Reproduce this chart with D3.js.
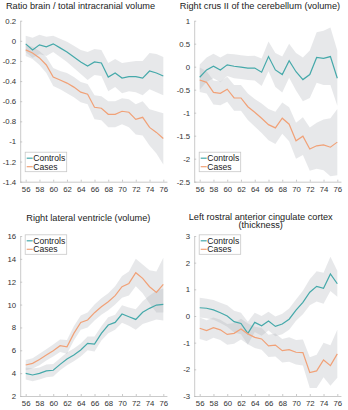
<!DOCTYPE html>
<html><head><meta charset="utf-8">
<script src="https://cdn.jsdelivr.net/npm/d3@7"></script>
<style>body{margin:0;background:#fff}svg{display:block}</style>
</head><body>
<script>
const years = [56,57,58,59,60,61,62,63,64,65,66,67,68,69,70,71,72,73,74,75,76];
const xTicks = [56,58,60,62,64,66,68,70,72,74,76];
const seriesNames = ["Controls","Cases"];

// Panel 1: Ratio brain / total intracranial volume
const p1Controls = [-0.03,-0.09,-0.04,-0.06,-0.03,-0.07,-0.11,-0.16,-0.21,-0.25,-0.21,-0.22,-0.36,-0.32,-0.37,-0.355,-0.355,-0.37,-0.30,-0.32,-0.35];
const p1ControlsUp = [0.05,0.03,0.06,0.04,0.05,0.02,-0.01,-0.05,-0.09,-0.11,-0.08,-0.09,-0.22,-0.18,-0.22,-0.21,-0.2,-0.2,-0.12,-0.13,-0.16];
const p1ControlsLo = [-0.11,-0.17,-0.13,-0.15,-0.11,-0.16,-0.21,-0.27,-0.33,-0.39,-0.34,-0.35,-0.5,-0.46,-0.52,-0.5,-0.51,-0.54,-0.48,-0.51,-0.54];
const p1Cases = [-0.09,-0.12,-0.17,-0.24,-0.36,-0.39,-0.42,-0.46,-0.51,-0.53,-0.66,-0.67,-0.73,-0.73,-0.70,-0.71,-0.78,-0.76,-0.86,-0.91,-0.97];
const p1CasesUp = [-0.04,-0.06,-0.1,-0.16,-0.27,-0.3,-0.32,-0.36,-0.41,-0.43,-0.54,-0.55,-0.6,-0.6,-0.57,-0.58,-0.63,-0.6,-0.68,-0.7,-0.72];
const p1CasesLo = [-0.15,-0.18,-0.24,-0.32,-0.45,-0.48,-0.52,-0.56,-0.61,-0.63,-0.78,-0.79,-0.86,-0.86,-0.83,-0.86,-0.93,-0.94,-1.04,-1.12,-1.23];
const p1YTicks = [0.2,0,-0.2,-0.4,-0.6,-0.8,-1,-1.2,-1.4];

// Panel 2: Right crus II of the cerebellum (volume)
const p2Controls = [-0.23,-0.07,0.01,-0.07,0.04,0.01,-0.01,-0.03,-0.03,-0.12,0.22,-0.07,-0.17,0.13,-0.11,-0.28,-0.17,0.2,0.18,0.22,-0.25];
const p2ControlsUp = [0.05,0.2,0.28,0.2,0.28,0.27,0.25,0.23,0.24,0.18,0.55,0.3,0.22,0.5,0.3,0.2,0.35,0.75,0.78,0.85,0.35];
const p2ControlsLo = [-0.5,-0.33,-0.25,-0.34,-0.2,-0.25,-0.27,-0.29,-0.3,-0.42,-0.1,-0.44,-0.56,-0.24,-0.52,-0.75,-0.68,-0.35,-0.4,-0.4,-0.85];
const p2Cases = [-0.29,-0.34,-0.56,-0.58,-0.49,-0.68,-0.68,-0.87,-0.99,-1.12,-1.26,-1.33,-1.12,-1.25,-1.61,-1.51,-1.79,-1.72,-1.70,-1.75,-1.64];
const p2CasesUp = [-0.02,-0.1,-0.3,-0.32,-0.22,-0.4,-0.4,-0.58,-0.7,-0.8,-0.92,-0.98,-0.78,-0.88,-1.22,-1.1,-1.32,-1.22,-1.15,-1.12,-0.92];
const p2CasesLo = [-0.55,-0.58,-0.82,-0.84,-0.76,-0.96,-0.96,-1.16,-1.3,-1.44,-1.6,-1.68,-1.46,-1.62,-2.0,-1.92,-2.26,-2.22,-2.25,-2.38,-2.36];
const p2YTicks = [1,0.5,0,-0.5,-1,-1.5,-2,-2.5];

// Panel 3: Right lateral ventricle (volume)
const p3Controls = [3.98,3.84,3.98,4.2,4.25,4.77,5.24,5.59,6.02,6.6,6.55,7.48,8.21,8.44,9.17,8.94,8.7,9.32,9.67,9.96,10.02];
const p3ControlsUp = [4.5,4.4,4.5,4.75,4.8,5.3,5.8,6.15,6.6,7.2,7.2,8.1,8.9,9.1,9.95,9.75,9.6,10.3,10.8,11.2,11.4];
const p3ControlsLo = [3.45,3.3,3.45,3.65,3.7,4.25,4.7,5.05,5.45,6.0,5.9,6.85,7.5,7.8,8.4,8.15,7.8,8.3,8.5,8.7,8.6];
const p3Cases = [4.71,4.86,5.2,5.59,5.96,6.4,6.31,7.48,8.44,8.65,9.29,9.81,10.25,10.78,11.56,11.85,12.79,12.29,11.56,11.07,11.77];
const p3CasesUp = [5.15,5.3,5.7,6.1,6.5,6.95,6.9,8.1,9.05,9.3,10.0,10.55,11.0,11.6,12.5,12.9,14.0,13.5,13.0,12.9,14.1];
const p3CasesLo = [4.25,4.4,4.7,5.1,5.45,5.85,5.7,6.85,7.8,8.0,8.6,9.1,9.5,10.0,10.6,10.8,11.6,11.0,10.1,9.3,9.3];
const p3YTicks = [2,4,6,8,10,12,14,16];

// Panel 4: Left rostral anterior cingulate cortex (thickness)
const p4Controls = [0.31,0.29,0.23,0.12,0.0,-0.21,-0.28,-0.65,-0.24,-0.37,-0.19,-0.39,-0.3,-0.12,0.22,0.51,0.89,1.11,1.04,1.58,1.21];
const p4ControlsUp = [0.68,0.65,0.6,0.5,0.4,0.2,0.12,-0.22,0.12,0.0,0.16,-0.02,0.08,0.28,0.62,0.95,1.38,1.68,1.62,2.22,1.7];
const p4ControlsLo = [-0.06,-0.08,-0.14,-0.26,-0.4,-0.62,-0.68,-1.08,-0.6,-0.74,-0.54,-0.76,-0.68,-0.52,-0.18,0.07,0.4,0.54,0.46,0.94,0.72];
const p4Cases = [-0.46,-0.55,-0.44,-0.52,-0.69,-0.65,-0.49,-0.67,-0.8,-0.86,-1.12,-1.09,-1.3,-1.26,-1.36,-1.37,-2.12,-2.06,-1.65,-1.86,-1.42];
const p4CasesUp = [-0.06,-0.16,-0.06,-0.14,-0.3,-0.26,-0.1,-0.28,-0.4,-0.45,-0.7,-0.66,-0.86,-0.8,-0.9,-0.88,-1.55,-1.45,-1.0,-1.1,-0.52];
const p4CasesLo = [-0.86,-0.94,-0.82,-0.9,-1.08,-1.04,-0.88,-1.06,-1.2,-1.27,-1.54,-1.52,-1.74,-1.72,-1.82,-1.86,-2.7,-2.7,-2.3,-2.62,-2.32];
const p4YTicks = [-3,-2,-1,0,1,2,3];

const panels = [
  {title:["Ratio brain / total intracranial volume"], c:p1Controls, cu:p1ControlsUp, cl:p1ControlsLo, k:p1Cases, ku:p1CasesUp, kl:p1CasesLo, yTicks:p1YTicks,
   x0:25.7, top:20.7, bottom:181.7, titleX:80.5, titleY:[9], legendTop:false},
  {title:["Right crus II of the cerebellum (volume)"], c:p2Controls, cu:p2ControlsUp, cl:p2ControlsLo, k:p2Cases, ku:p2CasesUp, kl:p2CasesLo, yTicks:p2YTicks,
   x0:199.7, top:20.7, bottom:181.7, titleX:260, titleY:[9], legendTop:false},
  {title:["Right lateral ventricle (volume)"], c:p3Controls, cu:p3ControlsUp, cl:p3ControlsLo, k:p3Cases, ku:p3CasesUp, kl:p3CasesLo, yTicks:p3YTicks,
   x0:25.7, top:236, bottom:396, titleX:88.3, titleY:[220.5], legendTop:true},
  {title:["Left rostral anterior cingulate cortex","(thickness)"], c:p4Controls, cu:p4ControlsUp, cl:p4ControlsLo, k:p4Cases, ku:p4CasesUp, kl:p4CasesLo, yTicks:p4YTicks,
   x0:199.7, top:236, bottom:396, titleX:260.7, titleY:[219.6, 228.3], legendTop:true}
];

const W = 348, H = 410;
const teal = "#45a9aa", orange = "#f1a177", bandFill = "#aeb2b8", axisCol = "#bdbdbd", textCol = "#333";
const font = "Liberation Sans, Arial, sans-serif";
const svg = d3.select("body").append("svg").attr("width", W).attr("height", H);
const step = (163.3 - 25.7) / 20;

panels.forEach(p => {
  const x = d3.scaleLinear().domain([56, 76]).range([p.x0, p.x0 + step * 20]);
  const ext = d3.extent(p.yTicks);
  const y = d3.scaleLinear().domain(ext).range([p.bottom, p.top]);
  const left = x(55.2), right = x(76.6);
  const g = svg.append("g");

  const area = (lo, up) => d3.area().x((d, i) => x(years[i])).y0((d, i) => y(lo[i])).y1((d, i) => y(up[i]))(years);
  g.append("path").attr("d", area(p.cl, p.cu)).attr("fill", bandFill).attr("fill-opacity", 0.3);
  g.append("path").attr("d", area(p.kl, p.ku)).attr("fill", bandFill).attr("fill-opacity", 0.3);

  const line = vals => d3.line().x((d, i) => x(years[i])).y((d, i) => y(vals[i]))(years);
  g.append("path").attr("d", line(p.c)).attr("fill", "none").attr("stroke", teal).attr("stroke-width", 1.2);
  g.append("path").attr("d", line(p.k)).attr("fill", "none").attr("stroke", orange).attr("stroke-width", 1.2);

  // axes
  const xAxis = d3.axisBottom(x).tickValues(xTicks).tickSizeInner(-2).tickSizeOuter(0).tickPadding(4.5);
  const xg = g.append("g").attr("transform", `translate(0,${p.bottom})`).call(xAxis);
  xg.select(".domain").attr("d", `M${left},0.5H${right}`);
  const yAxis = d3.axisLeft(y).tickValues(p.yTicks).tickSizeInner(-2).tickSizeOuter(0).tickPadding(4)
    .tickFormat(d => String(+d.toFixed(2)));
  const yg = g.append("g").attr("transform", `translate(${left},0)`).call(yAxis);
  [xg, yg].forEach(a => {
    a.select(".domain").attr("stroke", axisCol).attr("stroke-width", 0.8);
    a.selectAll(".tick line").attr("stroke", axisCol).attr("stroke-width", 0.8);
    a.selectAll("text").attr("fill", textCol).attr("font-family", font).attr("font-size", 7.8);
  });

  // title
  p.title.forEach((t, i) => {
    svg.append("text").attr("x", p.titleX).attr("y", p.titleY[i]).attr("text-anchor", "middle")
      .attr("font-family", font).attr("font-size", 9.2).attr("fill", "#222").text(t);
  });

  // legend
  const lx = left + 4.5, ly = p.legendTop ? p.top - 1.7 : 151.7;
  const lg = svg.append("g").attr("transform", `translate(${lx},${ly})`);
  lg.append("rect").attr("x", 0.5).attr("y", 0.5).attr("width", 41.5).attr("height", 19.5)
    .attr("fill", "#fff").attr("stroke", "#c8c8c8").attr("stroke-width", 0.8);
  seriesNames.forEach((n, i) => {
    const yy = 6.5 + i * 8.5;
    lg.append("line").attr("x1", 2).attr("x2", 8).attr("y1", yy).attr("y2", yy)
      .attr("stroke", i === 0 ? teal : orange).attr("stroke-width", 1.2);
    lg.append("text").attr("x", 8.5).attr("y", yy + 2.9).attr("font-family", font).attr("font-size", 8.6)
      .attr("fill", "#222").text(n);
  });
});
</script>
</body></html>
